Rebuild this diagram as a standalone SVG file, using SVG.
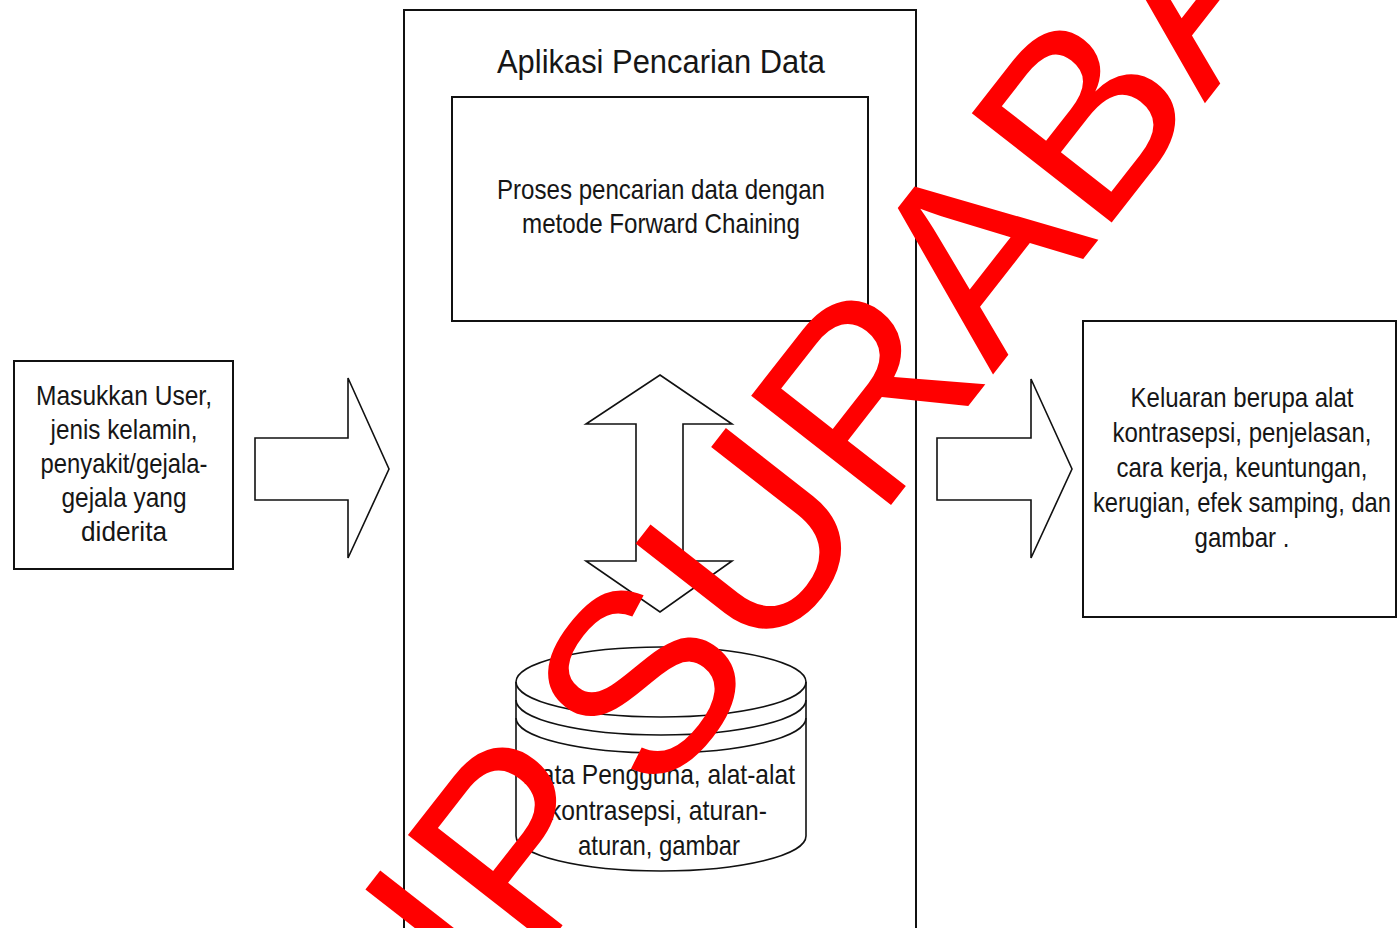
<svg xmlns="http://www.w3.org/2000/svg" width="1397" height="928" viewBox="0 0 1397 928">
  <style>
    .box { fill: #ffffff; stroke: #111111; stroke-width: 2; }
    .shape { fill: #ffffff; stroke: #111111; stroke-width: 1.6; stroke-linejoin: miter; }
    .line { fill: none; stroke: #111111; stroke-width: 1.6; }
    .t { font-family: "Liberation Sans", Arial, sans-serif; font-size: 28px; fill: #161616; text-anchor: middle; }
    .title { font-size: 34px; }
    .mark { font-family: "Liberation Sans", Arial, sans-serif; font-size: 258px; fill: #ff0000; }
  </style>
  <rect width="1397" height="928" fill="#ffffff"/>

  <!-- application frame -->
  <g id="app">
    <rect class="box" x="404" y="10" width="512" height="940"/>
    <text class="t title" x="661" y="73" textLength="328" lengthAdjust="spacingAndGlyphs">Aplikasi Pencarian Data</text>
  </g>

  <!-- forward chaining process -->
  <g id="process">
    <rect class="box" x="452" y="97" width="416" height="224"/>
    <text class="t" x="661" y="199" textLength="328" lengthAdjust="spacingAndGlyphs">Proses pencarian data dengan</text>
    <text class="t" x="661" y="233" textLength="278" lengthAdjust="spacingAndGlyphs">metode Forward Chaining</text>
  </g>

  <!-- user input -->
  <g id="input">
    <rect class="box" x="14" y="361" width="219" height="208"/>
    <text class="t" x="124" y="405" textLength="176" lengthAdjust="spacingAndGlyphs">Masukkan User,</text>
    <text class="t" x="124" y="439" textLength="147" lengthAdjust="spacingAndGlyphs">jenis kelamin,</text>
    <text class="t" x="124" y="473" textLength="167" lengthAdjust="spacingAndGlyphs">penyakit/gejala-</text>
    <text class="t" x="124" y="507" textLength="125" lengthAdjust="spacingAndGlyphs">gejala yang</text>
    <text class="t" x="124" y="541" textLength="86" lengthAdjust="spacingAndGlyphs">diderita</text>
  </g>

  <!-- output -->
  <g id="output">
    <rect class="box" x="1083" y="321" width="313" height="296"/>
    <text class="t" x="1242" y="407" textLength="223" lengthAdjust="spacingAndGlyphs">Keluaran berupa alat</text>
    <text class="t" x="1242" y="442" textLength="259" lengthAdjust="spacingAndGlyphs">kontrasepsi, penjelasan,</text>
    <text class="t" x="1242" y="477" textLength="251" lengthAdjust="spacingAndGlyphs">cara kerja, keuntungan,</text>
    <text class="t" x="1242" y="512" textLength="298" lengthAdjust="spacingAndGlyphs">kerugian, efek samping, dan</text>
    <text class="t" x="1242" y="547" textLength="95" lengthAdjust="spacingAndGlyphs">gambar .</text>
  </g>

  <!-- database cylinder -->
  <g id="database">
    <path class="shape" d="M516,682 V836 A145,35 0 0 0 806,836 V682 A145,35 0 0 0 516,682 Z"/>
    <path class="line" d="M516,682 A145,35 0 0 0 806,682"/>
    <path class="line" d="M516,700 A145,35 0 0 0 806,700"/>
    <path class="line" d="M516,718 A145,35 0 0 0 806,718"/>
    <text class="t" x="659" y="784" textLength="272" lengthAdjust="spacingAndGlyphs">Data Pengguna, alat-alat</text>
    <text class="t" x="658" y="820" textLength="218" lengthAdjust="spacingAndGlyphs">kontrasepsi, aturan-</text>
    <text class="t" x="659" y="855" textLength="162" lengthAdjust="spacingAndGlyphs">aturan, gambar</text>
  </g>

  <!-- block arrows between the parts -->
  <g id="connectors">
    <polygon class="shape" points="255,438 348,438 348,378 389,469 348,558 348,500 255,500"/>
    <polygon class="shape" points="937,438 1031,438 1031,379 1072,469 1031,558 1031,500 937,500"/>
    <polygon class="shape" points="660,375 732,424 683,424 683,561 732,561 660,612 586,561 636,561 636,424 586,424"/>
  </g>

  <!-- watermark -->
  <g id="watermark">
    <text class="mark" transform="translate(466,1049) rotate(-52)"><tspan dx="40">IP</tspan><tspan dx="-40"> SURABA</tspan></text>
  </g>
</svg>
